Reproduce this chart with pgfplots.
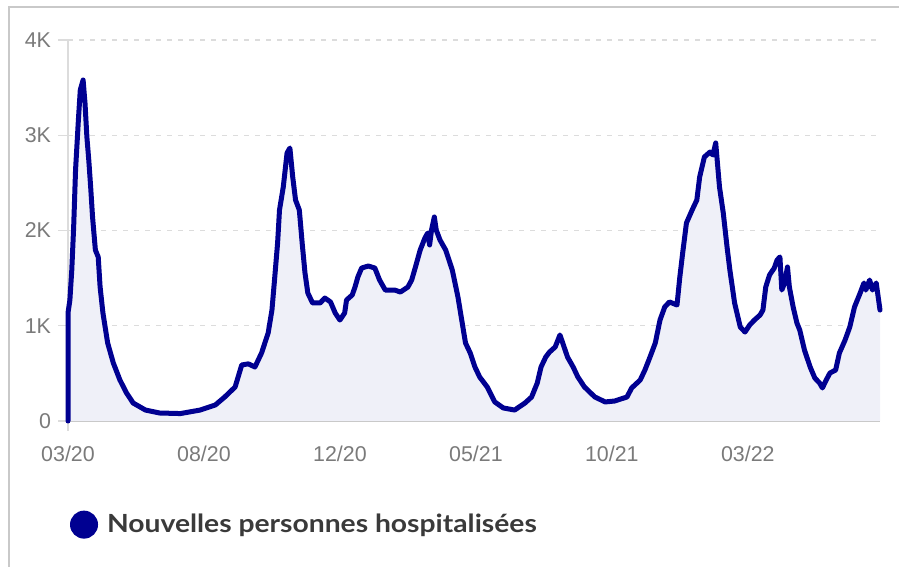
\documentclass[border=0pt]{standalone}
\usepackage{fontspec}
\setmainfont{Liberation Sans}
\newfontfamily\latofont[FakeStretch=1.13]{Lato}
\usepackage{pgfplots}
\pgfplotsset{compat=1.18}
\usepackage{pgfplotstable}
\definecolor{bleu}{HTML}{000091}
\definecolor{aire}{HTML}{EFF0F8}
\definecolor{cadre}{HTML}{C9C9C9}
\definecolor{grille}{HTML}{DCDCDC}
\definecolor{tick}{HTML}{7A7A7A}
\definecolor{texte}{HTML}{3A3A3A}

% jours depuis le 18/03/2020, nouvelles hospitalisations
\pgfplotstableread{
d v
0 0
0 1134
2 1270
4 1585
6 2037
8 2636
11 3160
13 3475
16 3580
18 3339
20 2982
22 2740
24 2457
26 2142
29 1795
32 1722
34 1407
37 1134
42 819
48 609
55 430
62 294
69 189
82 115
97 84
119 78
140 115
156 168
166 252
177 357
184 588
191 600
198 567
205 714
212 924
216 1165
219 1512
222 1869
224 2215
228 2457
232 2814
235 2866
238 2562
241 2320
245 2215
248 1869
251 1554
254 1344
259 1239
267 1239
272 1291
278 1250
283 1134
288 1060
293 1134
295 1270
301 1323
304 1407
307 1512
311 1606
318 1627
325 1606
330 1480
336 1375
346 1375
352 1354
360 1407
364 1480
368 1617
373 1795
378 1921
381 1974
383 1848
385 2005
388 2142
390 2005
394 1900
400 1795
407 1585
413 1302
417 1060
421 819
426 714
431 567
436 462
444 357
452 200
461 137
473 115
484 189
491 252
497 399
501 567
506 672
510 724
516 777
521 903
524 819
529 672
535 567
540 462
547 357
558 252
569 200
579 210
592 252
597 347
606 430
611 535
616 661
622 819
627 1060
632 1197
637 1250
645 1218
648 1512
651 1764
655 2079
661 2215
666 2320
669 2562
674 2772
680 2824
683 2793
686 2919
690 2457
694 2184
698 1827
701 1585
706 1239
712 987
717 934
722 1008
727 1060
733 1113
736 1165
739 1407
743 1533
748 1606
751 1690
754 1722
756 1375
759 1449
762 1617
764 1407
768 1197
772 1029
775 955
780 745
786 567
791 451
796 399
799 347
803 430
807 504
813 535
817 714
823 850
828 987
833 1197
839 1344
843 1449
845 1375
849 1480
852 1375
856 1449
860 1165
}\hospit

\begin{document}
\begin{tikzpicture}[x=1pt,y=1pt]
\useasboundingbox (0,0) rectangle (449.5,283.5);
\draw[cadre, line width=0.9pt] (4.5,0) -- (4.5,280) -- (449.5,280);
\begin{axis}[
  at={(34pt,73pt)}, anchor=south west,
  width=406pt, height=190.5pt, scale only axis,
  xmin=0, xmax=860, ymin=0, ymax=4000,
  axis x line*=bottom, axis y line*=left,
  axis line style={draw=grille, line width=0.7pt},
  x axis line style={draw=cadre},
  xtick={0,144,288,432,576,720},
  xticklabels={03/20,08/20,12/20,05/21,10/21,03/22},
  ytick={0,1000,2000,3000,4000},
  yticklabels={0,1K,2K,3K,4K},
  tick label style={font=\fontsize{10.7}{12}\selectfont, text=tick},
  x tick style={draw=none},
  y tick style={draw=grille, line width=0.6pt},
  tick align=outside, major tick length=5pt,
  extra x ticks={0}, extra x tick labels={},
  extra x tick style={x tick style={draw=grille, line width=0.7pt}},
  xticklabel style={yshift=-4pt},
  ymajorgrids,
  grid style={draw=grille, line width=0.6pt, dash pattern=on 2.5pt off 3pt},
  legend style={at={(axis description cs:0.002,-0.272)}, anchor=west, draw=none, fill=none,
    font=\latofont\bfseries\fontsize{12.5}{14}\selectfont\color{texte}, inner sep=0pt},
  legend cell align=left,
  legend image code/.code={\fill[bleu, draw=none] (7pt,0pt) circle (7pt); \path[draw=none, fill=none] (0pt,0pt) -- (16.5pt,0pt);},
  clip=false,
]
\addplot[fill=aire, draw=none, forget plot] table[x=d, y=v] {\hospit} \closedcycle;
\addplot[bleu, line width=2.5pt, line join=round, line cap=round] table[x=d, y=v] {\hospit};
\addlegendentry{Nouvelles personnes hospitalisées}
\end{axis}
\end{tikzpicture}
\end{document}
